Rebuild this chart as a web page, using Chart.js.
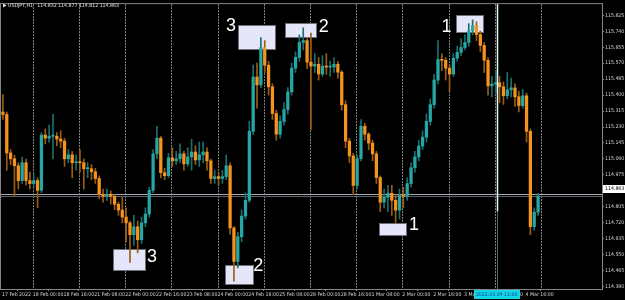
<!DOCTYPE html>
<html>
<head>
<meta charset="utf-8">
<script src="https://cdn.jsdelivr.net/npm/chart.js@4.4.1/dist/chart.umd.min.js"></script>
<style>
html,body{margin:0;padding:0;background:#000;}
#c{display:block;}
</style>
</head>
<body>
<canvas id="c" width="625" height="300"></canvas>
<script>
// ---- DATA (USDJPY, 2-hour candles) ----
const symbolTitle = 'USDJPY,H1';
const headerValues = ['114.832', '114.877', '114.812', '114.863'];
const firstOpen = 115.310;
const closes = [
115.297,115.092,115.061,115.024,114.945,115.040,114.945,114.929,114.945,114.893,
115.187,115.171,115.181,115.181,115.166,115.155,115.061,115.082,115.040,115.045,
115.040,115.008,115.008,114.992,114.956,114.872,114.861,114.872,114.861,114.819,
114.788,114.751,114.720,114.657,114.699,114.630,114.720,114.767,114.893,115.087,
115.171,114.987,114.971,115.066,115.050,115.061,115.087,115.034,115.071,115.097,
115.055,115.082,115.097,115.050,114.956,114.966,114.956,114.966,115.024,114.693,
114.515,114.646,114.756,114.840,115.207,115.496,115.454,115.653,115.559,115.444,
115.302,115.192,115.260,115.323,115.417,115.543,115.601,115.680,115.690,115.575,
115.554,115.564,115.512,115.554,115.549,115.549,115.564,115.522,115.349,115.155,
115.076,114.919,115.061,115.234,115.192,115.145,115.087,114.961,114.830,114.856,
114.877,114.840,114.788,114.866,114.861,114.929,115.013,115.071,115.129,115.176,
115.260,115.349,115.480,115.590,115.585,115.543,115.512,115.596,115.627,115.653,
115.680,115.743,115.769,115.722,115.664,115.585,115.449,115.459,115.465,115.444,
115.396,115.428,115.438,115.391,115.344,115.396,115.207,114.700,114.777,114.863];
const highs = [
115.402,115.310,115.110,115.080,115.040,115.070,115.060,114.990,114.980,114.960,
115.200,115.220,115.240,115.297,115.200,115.210,115.170,115.110,115.100,115.080,
115.110,115.060,115.040,115.030,115.010,114.970,114.900,114.900,114.890,114.870,
114.830,114.860,114.800,114.730,114.760,114.730,114.750,114.800,114.910,115.110,
115.234,115.180,115.010,115.090,115.120,115.100,115.140,115.100,115.120,115.165,
115.130,115.150,115.150,115.120,115.060,115.000,114.990,115.000,115.080,115.040,
114.700,114.670,114.790,114.880,115.260,115.560,115.570,115.706,115.690,115.580,
115.460,115.320,115.290,115.360,115.440,115.570,115.630,115.720,115.758,115.700,
115.730,115.620,115.600,115.610,115.620,115.580,115.600,115.580,115.530,115.370,
115.170,115.090,115.080,115.270,115.250,115.200,115.160,115.100,114.970,114.900,
114.920,114.920,114.870,114.900,114.910,114.960,115.040,115.100,115.160,115.210,
115.300,115.380,115.510,115.690,115.620,115.600,115.560,115.620,115.660,115.700,
115.720,115.780,115.800,115.790,115.740,115.680,115.600,115.500,115.530,115.500,
115.470,115.520,115.490,115.460,115.420,115.430,115.410,115.220,114.800,114.877];
const lows = [
115.270,115.000,115.030,114.860,114.900,114.930,114.920,114.900,114.910,114.800,
114.880,115.140,115.150,115.060,115.130,115.120,115.020,115.040,114.960,115.000,
114.990,114.900,114.960,114.950,114.930,114.850,114.830,114.840,114.820,114.790,
114.760,114.720,114.620,114.510,114.600,114.560,114.610,114.700,114.750,114.880,
115.060,114.960,114.950,114.960,115.020,115.030,115.040,115.000,115.020,115.000,
115.030,115.020,115.040,115.000,114.930,114.930,114.920,114.930,114.950,114.660,
114.410,114.480,114.620,114.740,114.830,115.190,115.330,115.440,115.520,115.400,
115.270,115.160,115.170,115.240,115.300,115.400,115.520,115.580,115.640,115.540,
115.216,115.520,115.480,115.500,115.510,115.500,115.520,115.490,115.320,115.120,
115.040,114.870,114.900,115.050,115.160,115.110,115.050,114.930,114.780,114.800,
114.780,114.760,114.720,114.740,114.800,114.840,114.910,114.990,115.050,115.110,
115.150,115.240,115.330,115.460,115.530,115.480,115.420,115.500,115.580,115.610,
115.640,115.660,115.720,115.690,115.630,115.520,115.400,115.390,115.410,115.360,
115.350,115.380,115.390,115.340,115.310,115.330,115.150,114.657,114.680,114.760];
const bidPrice = 114.863;
const askPrice = 114.876;
// time axis (in hourly bar numbers from 17 Feb 2022 08:00)
const xTickLabels = ['17 Feb 2022','18 Feb 00:00','18 Feb 16:00','21 Feb 08:00','22 Feb 00:00','22 Feb 16:00',
  '23 Feb 08:00','24 Feb 00:00','24 Feb 16:00','25 Feb 08:00','28 Feb 00:00','28 Feb 16:00','1 Mar 08:00',
  '2 Mar 00:00','2 Mar 16:00','3 Mar 08:00','4 Mar 00:00','4 Mar 16:00'];
const xTickBars = [0,16,32,48,64,80,96,112,128,144,160,176,192,208,224,240,256,272];
const dayStartBars = [16,40,64,88,112,136,160,184,208,232,256,280];
const yTickLabels = ['115.825','115.740','115.655','115.570','115.485','115.400','115.315','115.230','115.145',
  '115.060','114.975','114.890','114.805','114.720','114.635','114.550','114.465','114.380'];
const markerBar = 257;
const markerLabel = '2022.03.04 11:00';
// annotation rectangles (bar numbers, prices) and their number labels
const boxes = [
  {txt:'3', b0:122.8, b1:142.0, p0:115.644, p1:115.772, lb:119.0, lp:115.771},
  {txt:'2', b0:146.9, b1:163.0, p0:115.709, p1:115.785, lb:167.1, lp:115.767},
  {txt:'3', b0:57.8,  b1:74.1,  p0:114.469, p1:114.583, lb:78.0,  lp:114.541},
  {txt:'2', b0:115.8, b1:130.2, p0:114.394, p1:114.498, lb:133.1, lp:114.494},
  {txt:'1', b0:196.0, b1:209.9, p0:114.653, p1:114.718, lb:214.0, lp:114.714},
  {txt:'1', b0:235.8, b1:249.9, p0:115.736, p1:115.825, lb:230.9, lp:115.769}
];

// ---- build candle datasets ----
const opens = closes.map((c, j) => j === 0 ? firstOpen : closes[j - 1]);
const barPos = closes.map((c, j) => 2 * j + 0.5);
const wickData = closes.map((c, j) => ({x: barPos[j], y: [lows[j], highs[j]], up: c >= opens[j]}));
const bodyData = closes.map((c, j) => ({x: barPos[j], y: [opens[j], c], up: c >= opens[j]}));

const UP = '#26a7a5', DN = '#f5931f', UPW = '#1b6f6e', DNW = '#9b5d14';
const GRIDC = '#858585', TXT = '#d6d6d6';
const FONT = "'Liberation Sans Narrow','DejaVu Sans Condensed','Liberation Sans',sans-serif";
const TSIZE = 5.2;
Chart.defaults.font.family = FONT;

const mtPlugin = {
  id: 'mt',
  beforeDatasetsDraw(chart) {
    const {ctx, chartArea: a, scales: {x, y}} = chart;
    ctx.save();
    ctx.strokeStyle = GRIDC; ctx.lineWidth = 1; ctx.setLineDash([2, 1]);
    dayStartBars.forEach(b => {
      const px = Math.round(x.getPixelForValue(b)) + 0.5;
      if (px > a.right) return;
      ctx.beginPath(); ctx.moveTo(px, a.top); ctx.lineTo(px, a.bottom); ctx.stroke();
    });
    ctx.setLineDash([]);
    boxes.forEach(bx => {
      const X0 = Math.round(x.getPixelForValue(bx.b0)) + 0.5, X1 = Math.round(x.getPixelForValue(bx.b1)) + 0.5;
      const Y0 = Math.round(y.getPixelForValue(bx.p1)) + 0.5, Y1 = Math.round(y.getPixelForValue(bx.p0)) + 0.5;
      ctx.fillStyle = '#e6e6fa'; ctx.fillRect(X0, Y0, X1 - X0, Y1 - Y0);
      ctx.strokeStyle = '#6e6e78'; ctx.lineWidth = 1; ctx.strokeRect(X0, Y0, X1 - X0, Y1 - Y0);
    });
    const ya = Math.round(y.getPixelForValue(askPrice)) + 0.5;
    const yb = Math.round(y.getPixelForValue(bidPrice)) + 0.5;
    ctx.strokeStyle = '#a9a9a9'; ctx.beginPath(); ctx.moveTo(a.left, ya); ctx.lineTo(a.right, ya); ctx.stroke();
    ctx.strokeStyle = '#56626e'; ctx.beginPath(); ctx.moveTo(a.left, yb); ctx.lineTo(a.right, yb); ctx.stroke();
    ctx.restore();
  },
  afterDatasetsDraw(chart) {
    const {ctx, chartArea: a, scales: {x, y}} = chart;
    ctx.save();
    const mx = Math.round(x.getPixelForValue(markerBar)) + 0.5;
    const ymid = y.getPixelForValue(114.78);
    ctx.lineWidth = 1.5;
    ctx.strokeStyle = '#e4fafa'; ctx.beginPath(); ctx.moveTo(mx, a.top); ctx.lineTo(mx, ymid); ctx.stroke();
    ctx.lineWidth = 1;
    ctx.strokeStyle = '#4f6b6b'; ctx.beginPath(); ctx.moveTo(mx, ymid); ctx.lineTo(mx, a.bottom); ctx.stroke();
    ctx.restore();
  },
  afterDraw(chart) {
    const {ctx, chartArea: a, scales: {x, y}} = chart;
    ctx.save();
    ctx.strokeStyle = GRIDC; ctx.lineWidth = 1;
    ctx.strokeRect(a.left - 0.5, a.top - 0.5, a.right - a.left + 1, a.bottom - a.top + 1);
    ctx.fillStyle = '#ffffff'; ctx.font = "18px 'Liberation Sans', Arial, sans-serif";
    ctx.textAlign = 'center'; ctx.textBaseline = 'middle';
    boxes.forEach(bx => ctx.fillText(bx.txt, x.getPixelForValue(bx.lb), y.getPixelForValue(bx.lp) + 1));
    ctx.font = TSIZE + "px " + FONT; ctx.textAlign = 'left'; ctx.textBaseline = 'middle';
    ctx.fillStyle = '#e0e0e0';
    ctx.beginPath(); ctx.moveTo(3, 3.5); ctx.lineTo(6.5, 5.5); ctx.lineTo(3, 7.5); ctx.closePath(); ctx.fill();
    ctx.fillText(symbolTitle, 8, 6);
    ctx.fillText(headerValues.join(' '), 8 + ctx.measureText(symbolTitle + '   ').width, 6);
    const yb = y.getPixelForValue(bidPrice);
    ctx.fillStyle = '#ffffff'; ctx.fillRect(a.right + 1, Math.round(yb) - 11, 624 - a.right, 8);
    ctx.fillStyle = '#000000'; ctx.fillText(bidPrice.toFixed(3), a.right + 3, Math.round(yb) - 7);
    const mx = x.getPixelForValue(markerBar);
    const tw = ctx.measureText(markerLabel).width + 4;
    ctx.fillStyle = '#13d6e6'; ctx.fillRect(Math.round(mx - tw / 2), a.bottom + 1, Math.round(tw), 9);
    ctx.fillStyle = '#103a8a'; ctx.textAlign = 'center';
    ctx.fillText(markerLabel, mx, a.bottom + 5.5);
    ctx.restore();
  }
};

new Chart(document.getElementById('c'), {
  type: 'bar',
  data: {
    datasets: [
      {label: 'wicks', data: wickData, grouped: false, barThickness: 1, borderWidth: 0, borderSkipped: false,
       backgroundColor: c => (c.raw && c.raw.up) ? UPW : DNW, order: 2},
      {label: 'bodies', data: bodyData, grouped: false, barThickness: 2.6, borderWidth: 0, borderSkipped: false,
       minBarLength: 1, backgroundColor: c => (c.raw && c.raw.up) ? UP : DN, order: 1}
    ]
  },
  options: {
    responsive: false, animation: false, maintainAspectRatio: false,
    layout: {padding: {left: 1, top: 1, right: 0, bottom: 0}},
    plugins: {legend: {display: false}, tooltip: {enabled: false}},
    scales: {
      x: {
        type: 'linear', min: -0.5, max: 311.7, offset: false,
        afterBuildTicks: s => { s.ticks = xTickBars.map(v => ({value: v})); },
        afterFit: s => { s.height = 11; },
        ticks: {autoSkip: false, maxRotation: 0, minRotation: 0, align: 'start', padding: 1, color: TXT,
                font: {size: TSIZE, family: FONT}, callback: (v, i) => xTickLabels[i]},
        grid: {drawOnChartArea: false, drawTicks: true, tickLength: 2, color: GRIDC},
        border: {display: true, color: GRIDC}
      },
      y: {
        position: 'right', min: 114.368, max: 115.884,
        afterBuildTicks: s => { s.ticks = yTickLabels.map(t => ({value: parseFloat(t)})); },
        afterFit: s => { s.width = 23; },
        ticks: {autoSkip: false, padding: 1, color: TXT, font: {size: TSIZE, family: FONT},
                callback: v => Number(v).toFixed(3)},
        grid: {drawOnChartArea: false, drawTicks: true, tickLength: 2, color: GRIDC},
        border: {display: true, color: GRIDC}
      }
    }
  },
  plugins: [mtPlugin]
});
</script>
</body>
</html>
